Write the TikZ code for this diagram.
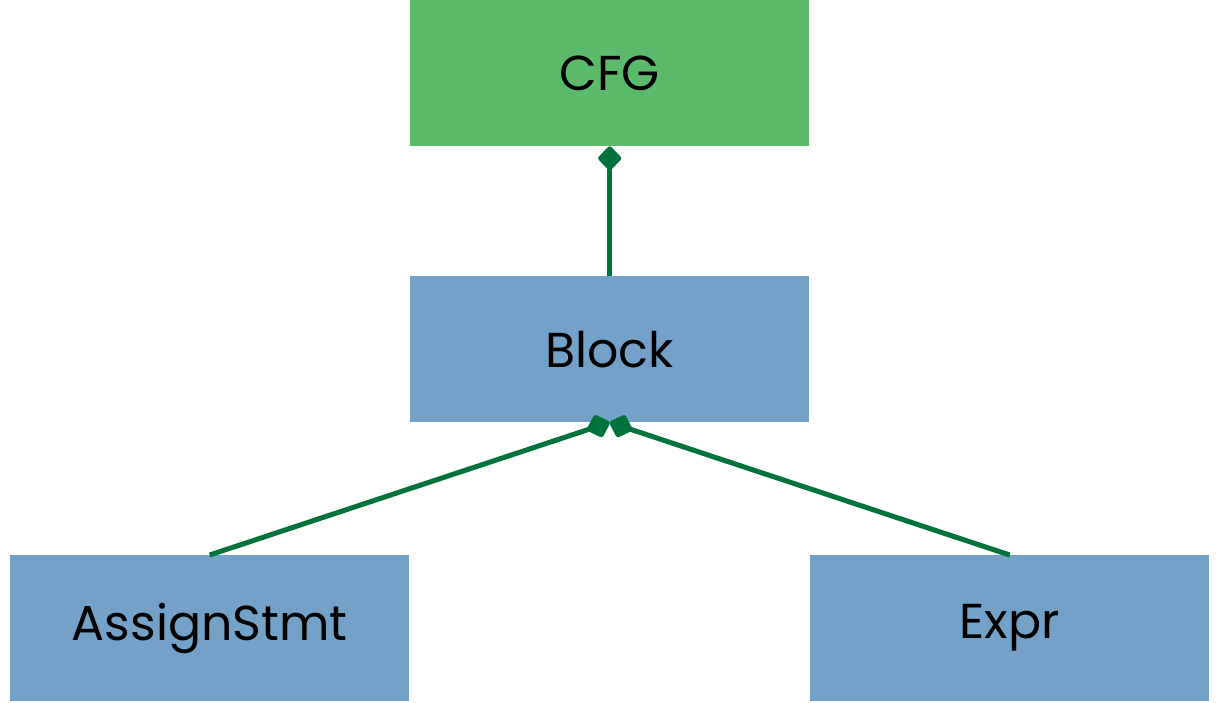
\documentclass[tikz,border=0pt]{standalone}
\usepackage{fontspec}
\setmainfont{Poppins}
\usetikzlibrary{arrows.meta}
\definecolor{topgreen}{RGB}{91,187,106}
\definecolor{boxblue}{RGB}{115,161,199}
\definecolor{linkgreen}{RGB}{0,114,59}
\tikzset{
  box/.style={minimum width=399pt,minimum height=146pt,inner sep=0pt,font=\fontsize{49}{55}\selectfont,text=black},
  conn/.style={draw=linkgreen,line width=5pt,-{Diamond[length=26pt,width=25pt,line join=round]}}
}
\begin{document}
\begin{tikzpicture}[x=1pt,y=-1pt]
\useasboundingbox (0,0) rectangle (1225,703);
\node[box,fill=topgreen,anchor=north west] (cfg) at (410,0) {CFG};
\node[box,fill=boxblue,anchor=north west] (block) at (410,276) {Block};
\node[box,fill=boxblue,anchor=north west] (assign) at (10,555) {AssignStmt};
\node[box,fill=boxblue,anchor=north west] (expr) at (810,555) {Expr};
\draw[conn] (block.north) -- (cfg.south);
\draw[conn] (assign.north) -- (block.south);
\draw[conn] (expr.north) -- (block.south);
\end{tikzpicture}
\end{document}
